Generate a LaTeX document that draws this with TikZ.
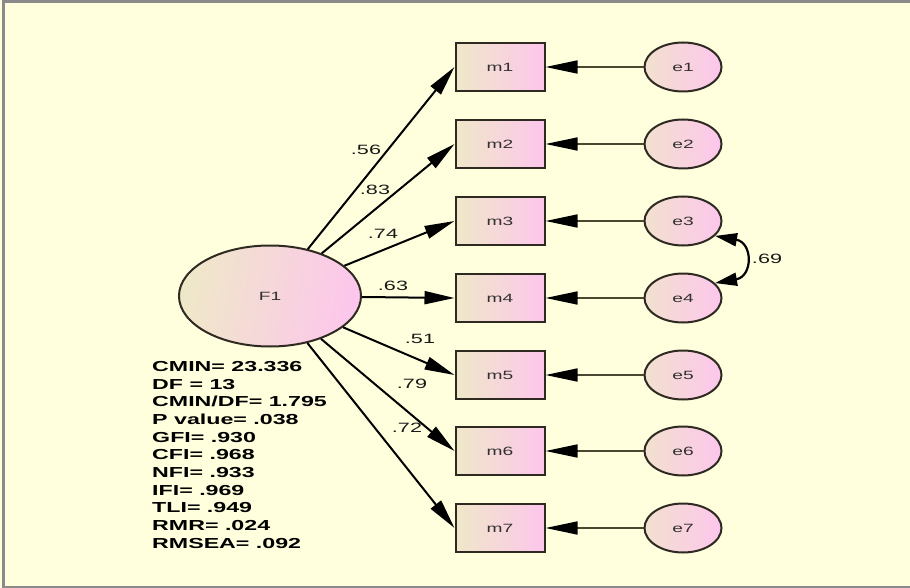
\documentclass[tikz,border=0pt]{standalone}
\usepackage{fontspec}
\setmainfont{Liberation Sans}[FakeStretch=1.6]
\usetikzlibrary{arrows.meta,shapes.geometric}
\definecolor{bgc}{HTML}{FFFFDE}
\definecolor{frame}{HTML}{8A8A8A}
\definecolor{tan}{HTML}{EFE8C8}
\definecolor{pinkc}{HTML}{FDC6EC}
\definecolor{edge}{HTML}{2E2A22}
\definecolor{ntext}{HTML}{333030}
\definecolor{errline}{HTML}{4A4630}
\begin{document}
\begin{tikzpicture}[x=1pt,y=-1pt,
  mbox/.style={rectangle, draw=edge, line width=2pt, minimum width=89pt, minimum height=48pt,
    left color=tan, right color=pinkc, text=ntext, font=\fontsize{12}{14}\selectfont},
  errnode/.style={ellipse, draw=edge, line width=2pt, minimum width=77pt, minimum height=49pt,
    left color=tan!80!pinkc, right color=pinkc, text=ntext, font=\fontsize{12}{14}\selectfont},
  latnode/.style={ellipse, draw=edge, line width=2pt, minimum width=182pt, minimum height=101pt,
    left color=tan, right color=pinkc, shading angle=80, text=ntext, font=\fontsize{12}{14}\selectfont},
  loading/.style={draw=black, line width=2pt, -{Triangle[length=30pt,width=13pt]}},
  errpath/.style={draw=errline, line width=1.6pt, -{Triangle[length=32pt,width=13pt,fill=black,color=black]}},
  covpath/.style={draw=black, line width=2.2pt, {Triangle[length=22pt,width=13pt]}-{Triangle[length=22pt,width=13pt]}},
  lbl/.style={text=black!90, font=\fontsize{13.5}{15}\selectfont, inner sep=0pt},
  fittext/.style={anchor=north west, align=left, inner sep=0pt, text=black,
    font=\fontsize{14.5}{17.7}\selectfont\bfseries}
]
\useasboundingbox (0,0) rectangle (910,588);
\fill[bgc] (0,0) rectangle (910,588);
\draw[frame, line width=2.5pt] (3.5,588) -- (3.5,1.5) -- (910,1.5);
\draw[frame, line width=2pt] (3.5,587) -- (910,587);

\node[latnode] (F1) at (270,296) {F1};

\node[mbox] (m1) at (500,67) {m1};
\node[mbox] (m2) at (500,144) {m2};
\node[mbox] (m3) at (500,221) {m3};
\node[mbox] (m4) at (500,298) {m4};
\node[mbox] (m5) at (500,375) {m5};
\node[mbox] (m6) at (500,451) {m6};
\node[mbox] (m7) at (500,528) {m7};

\node[errnode] (e1) at (683,67) {e1};
\node[errnode] (e2) at (683,144) {e2};
\node[errnode] (e3) at (683,221) {e3};
\node[errnode] (e4) at (683,298) {e4};
\node[errnode] (e5) at (683,375) {e5};
\node[errnode] (e6) at (683,451) {e6};
\node[errnode] (e7) at (683,528) {e7};

\foreach \i in {1,...,7}{
  \draw[loading] (F1) -- (m\i.west);
  \draw[errpath] (e\i) -- (m\i);
}

\draw[covpath] (e3.-25) to[out=-10, in=10, looseness=2.1] (e4.25);

\node[lbl] (l1) at (366,150) {.56};
\node[lbl] (l2) at (375,190) {.83};
\node[lbl] (l3) at (383,234) {.74};
\node[lbl] (l4) at (393,286) {.63};
\node[lbl] (l5) at (420,339) {.51};
\node[lbl] (l6) at (412,384) {.79};
\node[lbl] (l7) at (407,428) {.72};
\node[lbl] (l8) at (767,259) {.69};

\node[fittext] (fit) at (152,361) {CMIN= 23.336\\DF = 13\\CMIN/DF= 1.795\\P value= .038\\GFI= .930\\CFI= .968\\NFI= .933\\IFI= .969\\TLI= .949\\RMR= .024\\RMSEA= .092};
\end{tikzpicture}
\end{document}
